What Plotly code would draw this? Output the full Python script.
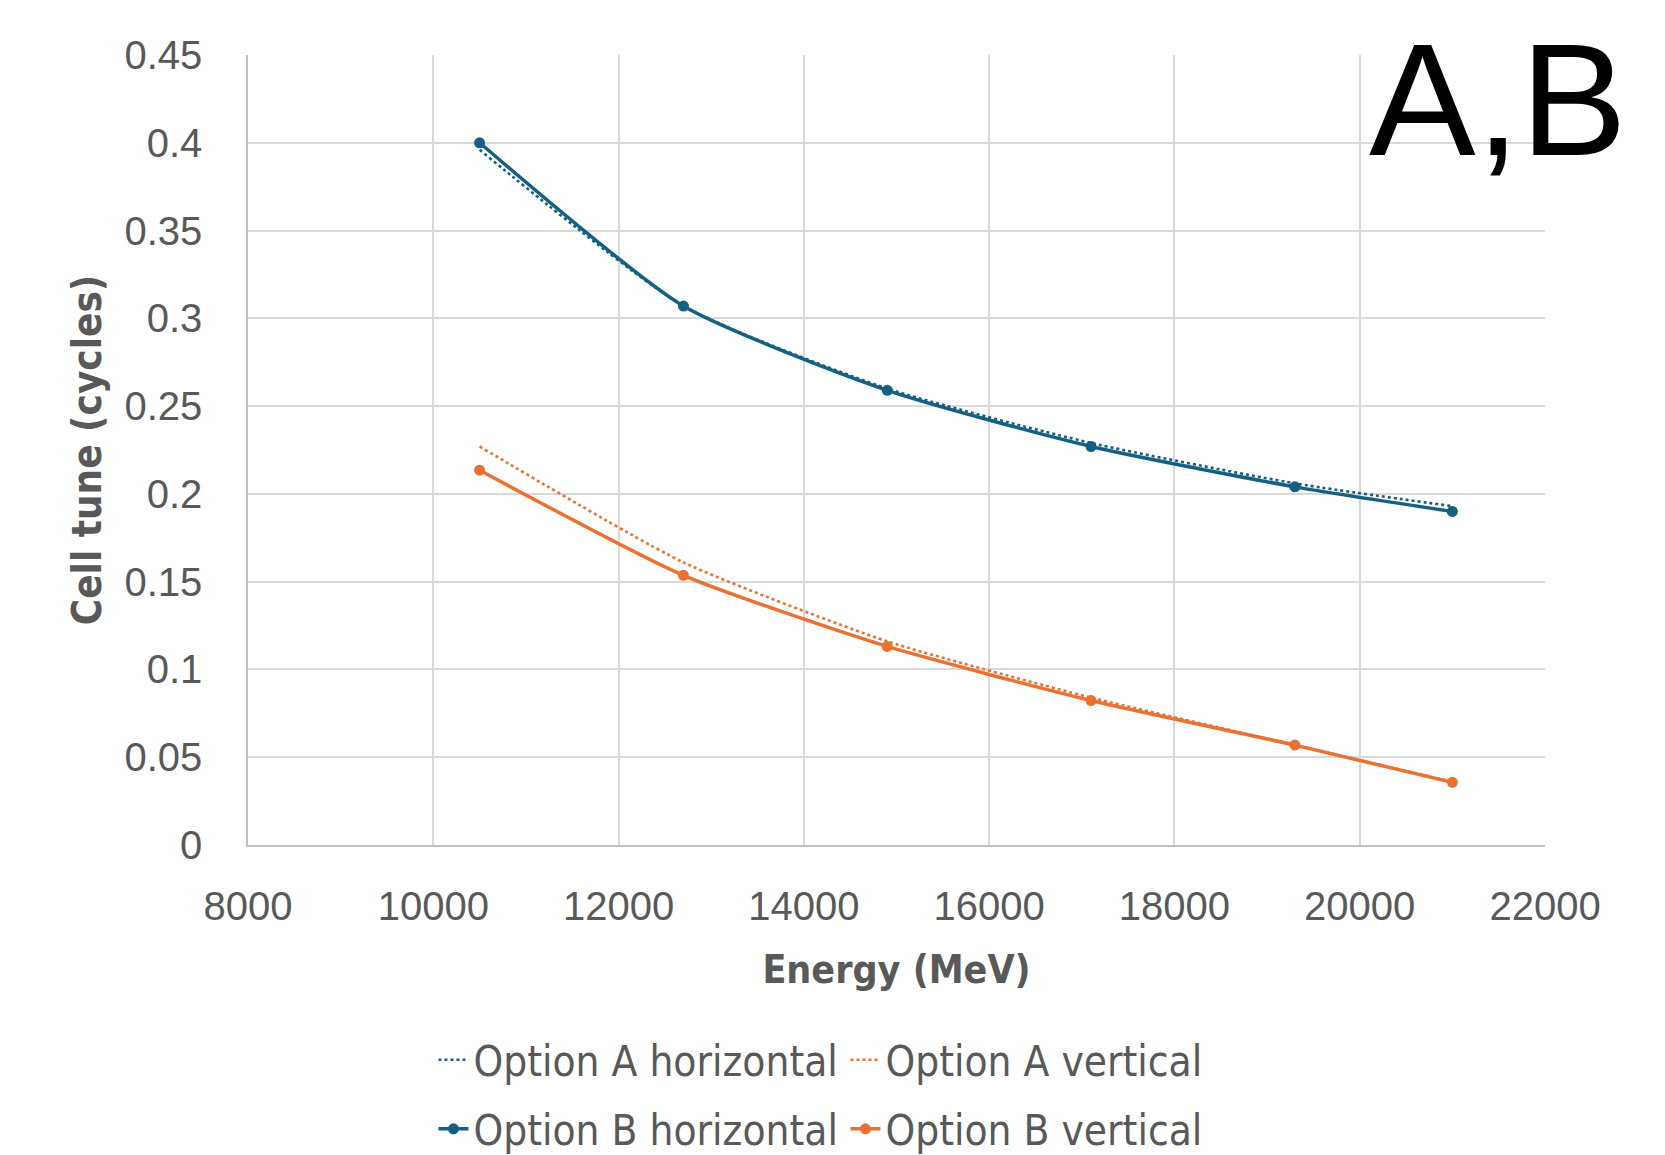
import plotly.graph_objects as go

energy = [10500, 12700, 14900, 17100, 19300, 21000]
a_horizontal = [0.396, 0.307, 0.260, 0.229, 0.206, 0.193]
a_vertical = [0.227, 0.161, 0.116, 0.084, 0.057, 0.036]
b_horizontal = [0.400, 0.307, 0.259, 0.227, 0.204, 0.190]
b_vertical = [0.2135, 0.1536, 0.1131, 0.0823, 0.0569, 0.0357]

y_tickvals = [0, 0.05, 0.1, 0.15, 0.2, 0.25, 0.3, 0.35, 0.4, 0.45]
y_ticktext = ["0", "0.05", "0.1", "0.15", "0.2", "0.25", "0.3", "0.35", "0.4", "0.45"]
x_tickvals = [8000, 10000, 12000, 14000, 16000, 18000, 20000, 22000]
x_ticktext = ["8000", "10000", "12000", "14000", "16000", "18000", "20000", "22000"]

BLUE = "#156082"
ORANGE = "#E97132"
GRAY = "#595959"
NARROW = "Liberation Sans Narrow, DejaVu Sans Condensed, Roboto, sans-serif"

fig = go.Figure()
fig.add_trace(go.Scatter(x=energy, y=a_horizontal, name="Option A horizontal", mode="lines",
                         legend="legend",
                         line=dict(color=BLUE, width=2.6, dash="dot", shape="spline", smoothing=0.6)))
fig.add_trace(go.Scatter(x=energy, y=a_vertical, name="Option A vertical", mode="lines",
                         legend="legend",
                         line=dict(color=ORANGE, width=2.6, dash="dot", shape="spline", smoothing=0.6)))
fig.add_trace(go.Scatter(x=energy, y=b_horizontal, name="Option B horizontal", mode="lines+markers",
                         legend="legend2",
                         line=dict(color=BLUE, width=3.5, shape="spline", smoothing=0.6),
                         marker=dict(color=BLUE, size=11)))
fig.add_trace(go.Scatter(x=energy, y=b_vertical, name="Option B vertical", mode="lines+markers",
                         legend="legend2",
                         line=dict(color=ORANGE, width=3.5, shape="spline", smoothing=0.6),
                         marker=dict(color=ORANGE, size=11)))

legend_common = dict(orientation="h", xanchor="left",
                     entrywidth=367, entrywidthmode="pixels",
                     font=dict(family=NARROW, size=42, color=GRAY),
                     bgcolor="rgba(0,0,0,0)")

# page body has an 8px default margin, so margins are shifted by -8px
fig.update_layout(
    width=1665, height=1155,
    margin=dict(l=240, r=128, t=47, b=318, autoexpand=False),
    plot_bgcolor="white", paper_bgcolor="white",
    font=dict(family="Liberation Sans, Arial, sans-serif", color=GRAY, size=40),
    xaxis=dict(range=[8000, 22000], tickvals=x_tickvals, ticktext=x_ticktext,
               showgrid=True, gridcolor="#d9d9d9", gridwidth=1.5,
               showline=True, linecolor="#bfbfbf", linewidth=1.5,
               zeroline=False, ticks="", ticklabelstandoff=25, automargin=False,
               tickfont=dict(size=40, color=GRAY),
               title=dict(text="<b>Energy (MeV)</b>", standoff=29,
                          font=dict(family=NARROW, size=39, color=GRAY))),
    yaxis=dict(range=[0, 0.45], tickvals=y_tickvals, ticktext=y_ticktext,
               showgrid=True, gridcolor="#d9d9d9", gridwidth=1.5,
               showline=True, linecolor="#bfbfbf", linewidth=1.5,
               zeroline=False, ticks="", ticklabelstandoff=36, automargin=False,
               tickfont=dict(size=40, color=GRAY),
               title=dict(text="<b>Cell tune (cycles)</b>", standoff=10,
                          font=dict(family=NARROW, size=40, color=GRAY))),
    legend=dict(x=0.143, y=-0.229, yanchor="top", **legend_common),
    legend2=dict(x=0.143, y=-0.4025, yanchor="bottom", **legend_common),
    showlegend=True,
)

fig.add_annotation(text="A,B", xref="paper", yref="paper", x=0.964, y=0.944,
                   xanchor="center", yanchor="middle", showarrow=False,
                   font=dict(family="Liberation Sans, Arial, sans-serif", size=160, color="black"))

fig.write_html("out.html")
